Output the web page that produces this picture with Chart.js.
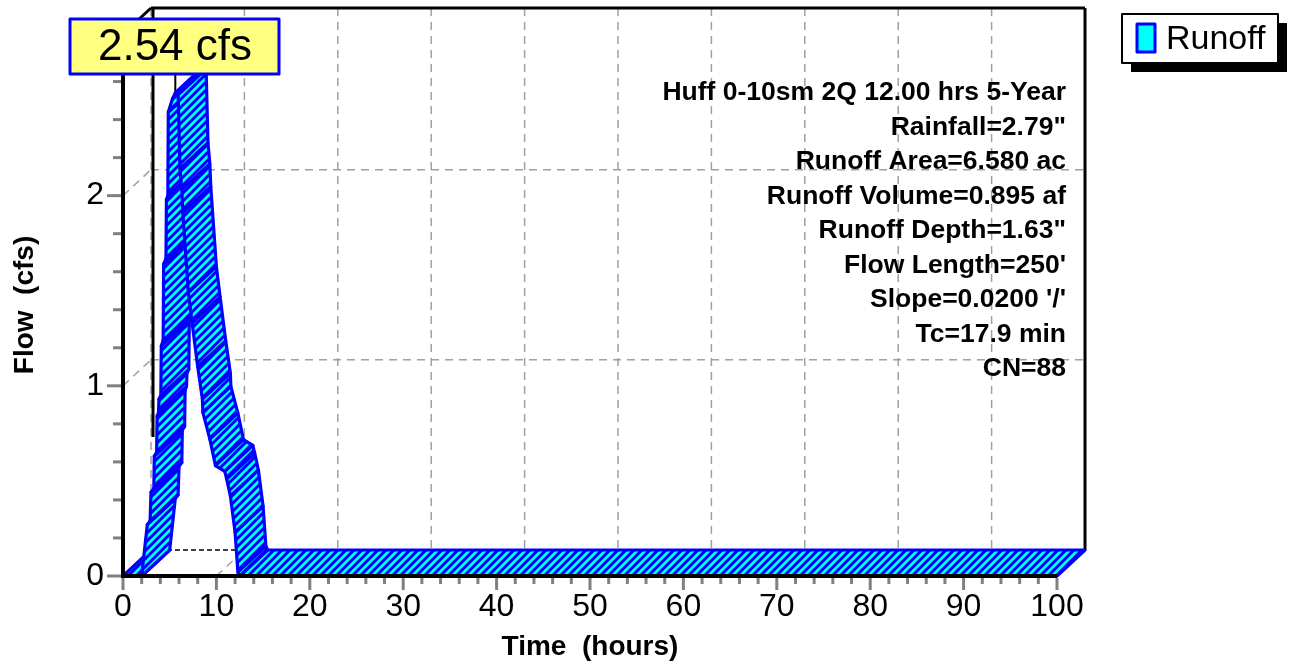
<!DOCTYPE html>
<html>
<head>
<meta charset="utf-8">
<script src="https://cdn.jsdelivr.net/npm/chart.js@4/dist/chart.umd.min.js"></script>
<style>
  html, body { margin: 0; padding: 0; background: #fff; }
  canvas { display: block; }
</style>
</head>
<body>
<canvas id="chart" width="1291" height="664"></canvas>
<script>
// hydrograph (hours, cfs)
const times = [0, 2.0, 2.6, 2.9, 3.0, 3.3, 3.35, 3.6, 3.65, 3.8, 3.85, 4.05, 4.1, 4.3, 4.35, 4.6, 4.65, 4.8, 4.85, 5.3, 5.6,
  5.9, 6.1, 6.3, 6.4, 7.0, 7.4, 8.0, 8.5, 8.55, 9.3, 9.9, 10.9, 11.1, 11.5, 12.0, 12.3, 12.5, 100];
const flows = [0, 0, 0.27, 0.29, 0.44, 0.46, 0.63, 0.65, 0.84, 0.86, 0.93, 0.95, 1.21, 1.24, 1.64, 1.67, 1.98, 2.0, 2.44, 2.51, 2.54,
  2.53, 2.14, 2.03, 1.91, 1.49, 1.33, 1.10, 0.93, 0.86, 0.72, 0.58, 0.55, 0.51, 0.42, 0.23, 0.02, 0, 0];

const xTicks = [0, 10, 20, 30, 40, 50, 60, 70, 80, 90, 100];
const yTicks = [0, 1, 2];
const yMax = 2.85;
const seriesName = 'Runoff';
const infoLines = [
  'Huff 0-10sm 2Q 12.00 hrs 5-Year',
  'Rainfall=2.79"',
  'Runoff Area=6.580 ac',
  'Runoff Volume=0.895 af',
  'Runoff Depth=1.63"',
  'Flow Length=250\'',
  'Slope=0.0200 \'/\'',
  'Tc=17.9 min',
  'CN=88'
];

const FONT = '"Liberation Sans", Arial, sans-serif';
const DX = 28, DY = -26;   // depth of the 3d box

function hatchPattern(ctx) {
  const c = document.createElement('canvas');
  c.width = 8; c.height = 8;
  const g = c.getContext('2d');
  g.fillStyle = '#00FFFF';
  g.fillRect(0, 0, 8, 8);
  g.strokeStyle = '#0000FF';
  g.lineWidth = 3;
  g.beginPath();
  for (const k of [-8, 0, 8]) {
    g.moveTo(k - 1, 9);
    g.lineTo(k + 9, -1);
  }
  g.stroke();
  return ctx.createPattern(c, 'repeat');
}

function line(ctx, x1, y1, x2, y2) {
  ctx.beginPath();
  ctx.moveTo(x1, y1);
  ctx.lineTo(x2, y2);
  ctx.stroke();
}

const hydroPlugin = {
  id: 'hydro',
  afterDatasetsDraw(chart) {
    const ctx = chart.ctx;
    const xs = chart.scales.x, ys = chart.scales.y;
    const X = v => xs.getPixelForValue(v);
    const Y = v => ys.getPixelForValue(v);
    const left = X(0), right = X(100), bottom = Y(0), top = Y(yMax);
    const pts = chart.getDatasetMeta(0).data;

    ctx.save();

    // back plane grid
    ctx.strokeStyle = '#a0a0a0';
    ctx.lineWidth = 1.5;
    ctx.setLineDash([8, 6]);
    for (const t of xTicks.slice(0, -1)) {
      line(ctx, X(t) + DX, top + DY, X(t) + DX, bottom + DY);
    }
    for (const f of yTicks.slice(1)) {
      line(ctx, left + DX, Y(f) + DY, right + DX, Y(f) + DY);
      line(ctx, left, Y(f), left + DX, Y(f) + DY);
    }
    for (const t of xTicks.slice(1)) {
      line(ctx, X(t), bottom, X(t) + DX, bottom + DY);
    }
    ctx.strokeStyle = '#000';
    ctx.setLineDash([5, 3]);
    line(ctx, left + DX, bottom + DY, right + DX, bottom + DY);
    ctx.setLineDash([]);

    // back frame
    ctx.lineWidth = 3;
    line(ctx, left + DX, top + DY, right + DX, top + DY);
    line(ctx, right + DX, top + DY, right + DX, bottom + DY);
    line(ctx, left, top, left + DX, top + DY);
    line(ctx, left + DX + 2, top + DY, left + DX + 2, bottom + DY - 113);

    // peak leader
    let peak = 0;
    flows.forEach((f, i) => { if (f > flows[peak]) peak = i; });
    ctx.lineWidth = 2;
    line(ctx, pts[peak].x, 60, pts[peak].x, pts[peak].y);

    // ribbon
    const pat = hatchPattern(ctx);
    ctx.lineJoin = 'round';
    ctx.lineWidth = 3.2;
    ctx.strokeStyle = '#0000FF';
    for (let i = 0; i < pts.length - 1; i++) {
      const a = pts[i], b = pts[i + 1];
      ctx.beginPath();
      ctx.moveTo(a.x, a.y);
      ctx.lineTo(b.x, b.y);
      ctx.lineTo(b.x + DX, b.y + DY);
      ctx.lineTo(a.x + DX, a.y + DY);
      ctx.closePath();
      ctx.fillStyle = pat;
      ctx.fill();
      ctx.stroke();
    }

    // front axes
    ctx.strokeStyle = '#000';
    ctx.lineWidth = 4;
    line(ctx, left, top, left, bottom + 2);
    line(ctx, left - 2, bottom, right, bottom);

    // ticks
    ctx.strokeStyle = '#808080';
    ctx.lineWidth = 3;
    for (let f = 0; f <= yMax + 1e-9; f += 0.2) {
      const major = Math.abs(f - Math.round(f)) < 1e-6;
      line(ctx, left - (major ? 16 : 10), Y(f), left - 2, Y(f));
    }
    for (let t = 0; t <= 100; t += 2) {
      const major = t % 10 === 0;
      line(ctx, X(t), bottom + 2, X(t), bottom + (major ? 14 : 8));
    }

    // tick labels
    ctx.fillStyle = '#000';
    ctx.font = '32px ' + FONT;
    ctx.textBaseline = 'middle';
    ctx.textAlign = 'right';
    for (const f of yTicks) ctx.fillText(String(f), left - 19, Y(f));
    ctx.textAlign = 'center';
    for (const t of xTicks) ctx.fillText(String(t), X(t), bottom + 31);

    // axis titles
    ctx.font = 'bold 28px ' + FONT;
    ctx.fillText('Time  (hours)', (left + right) / 2, bottom + 71);
    ctx.save();
    ctx.translate(25, (top + bottom) / 2);
    ctx.rotate(-Math.PI / 2);
    ctx.fillText('Flow  (cfs)', 0, 0);
    ctx.restore();

    // storm info
    ctx.font = 'bold 26.5px ' + FONT;
    ctx.textAlign = 'right';
    infoLines.forEach((s, i) => ctx.fillText(s, 1066, 93 + i * 34.5));

    // legend
    ctx.fillStyle = '#000';
    ctx.fillRect(1131, 23, 156, 49);
    ctx.fillStyle = '#fff';
    ctx.fillRect(1122, 14, 156, 49);
    ctx.lineWidth = 2;
    ctx.strokeStyle = '#000';
    ctx.strokeRect(1122, 14, 156, 49);
    ctx.fillStyle = '#00FFFF';
    ctx.fillRect(1137, 24, 18, 28);
    ctx.strokeStyle = '#0000FF';
    ctx.lineWidth = 3;
    ctx.strokeRect(1137, 24, 18, 28);
    ctx.fillStyle = '#000';
    ctx.font = '34px ' + FONT;
    ctx.textAlign = 'left';
    ctx.fillText(seriesName, 1166, 40);

    // peak label
    ctx.fillStyle = '#FFFF80';
    ctx.fillRect(70, 19, 209, 55);
    ctx.strokeStyle = '#0000FF';
    ctx.lineWidth = 3;
    ctx.strokeRect(70, 19, 209, 55);
    ctx.fillStyle = '#000';
    ctx.font = '44px ' + FONT;
    ctx.textAlign = 'center';
    ctx.fillText(flows[peak].toFixed(2) + ' cfs', 175, 48);

    ctx.restore();
  }
};

new Chart(document.getElementById('chart'), {
  type: 'line',
  data: {
    datasets: [{
      label: seriesName,
      data: times.map((t, i) => ({ x: t, y: flows[i] })),
      borderColor: 'transparent',
      borderWidth: 0,
      pointRadius: 0,
      fill: false
    }]
  },
  options: {
    responsive: false,
    animation: false,
    layout: { padding: { left: 123, right: 234, top: 34, bottom: 88 } },
    scales: {
      x: { type: 'linear', min: 0, max: 100, display: false },
      y: { type: 'linear', min: 0, max: yMax, display: false }
    },
    plugins: { legend: { display: false }, tooltip: { enabled: false } }
  },
  plugins: [hydroPlugin]
});
</script>
</body>
</html>
